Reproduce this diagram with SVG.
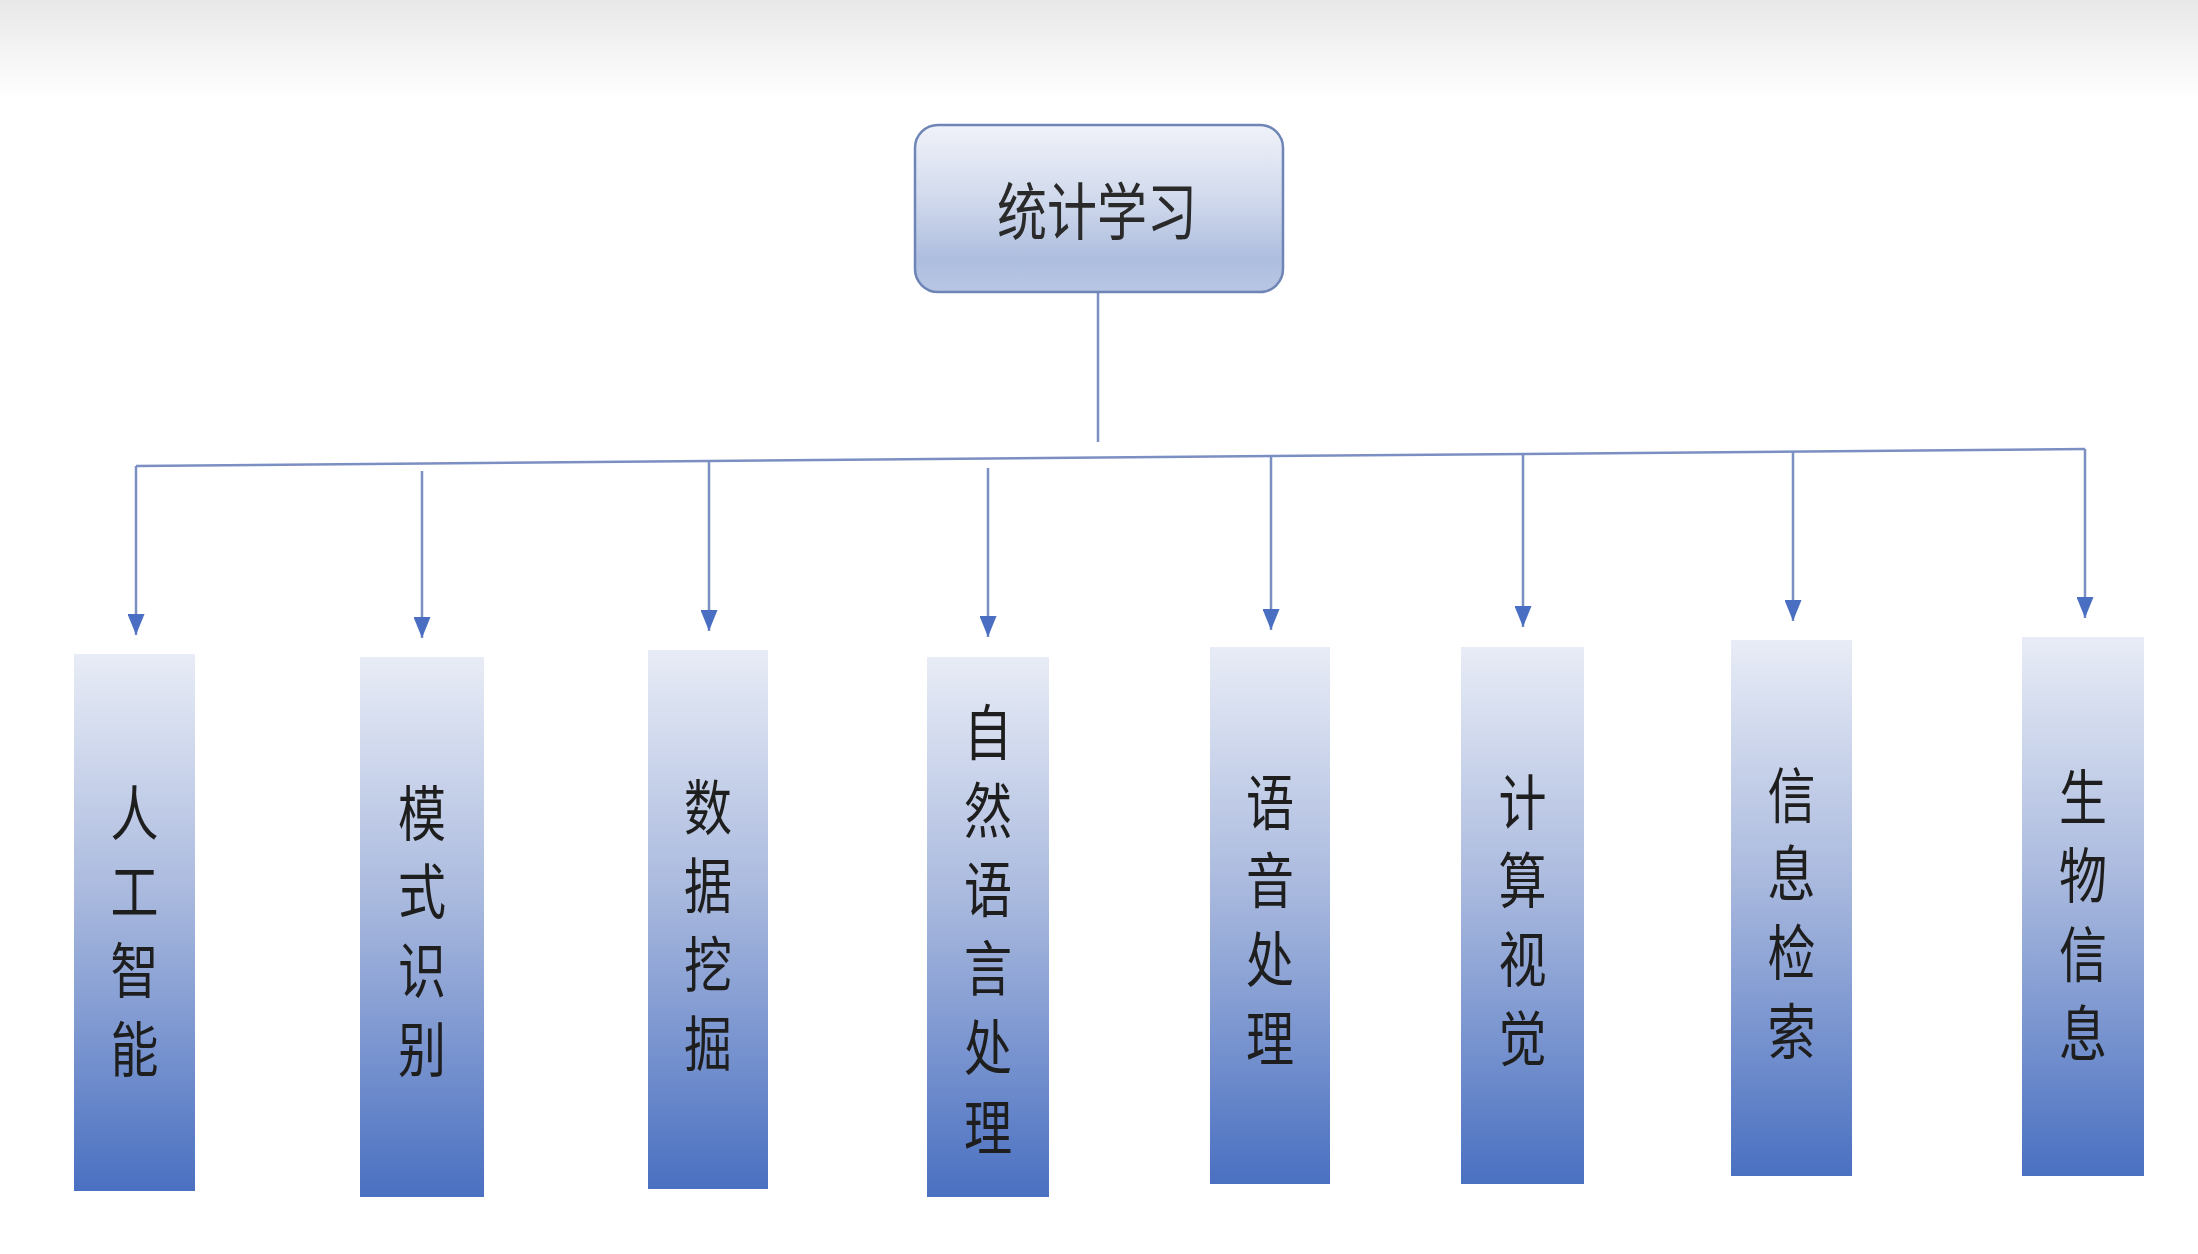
<svg xmlns="http://www.w3.org/2000/svg" width="2198" height="1254" viewBox="0 0 2198 1254">
<defs>
<linearGradient id="topband" x1="0" y1="0" x2="0" y2="1">
<stop offset="0" stop-color="#e8e8e8"/>
<stop offset="0.6" stop-color="#f6f6f6"/>
<stop offset="1" stop-color="#ffffff"/>
</linearGradient>
<linearGradient id="rootfill" x1="0" y1="0" x2="0" y2="1">
<stop offset="0" stop-color="#f0f2f9"/>
<stop offset="0.45" stop-color="#d0d9ec"/>
<stop offset="0.8" stop-color="#aebedf"/>
<stop offset="1" stop-color="#b8c6e3"/>
</linearGradient>
<linearGradient id="boxfill" x1="0" y1="0" x2="0" y2="1">
<stop offset="0" stop-color="#e8ecf6"/>
<stop offset="0.45" stop-color="#a9b9de"/>
<stop offset="1" stop-color="#4a70c1"/>
</linearGradient>
<marker id="arr" viewBox="0 0 21 17" refX="21" refY="8.5" markerWidth="21" markerHeight="17" markerUnits="userSpaceOnUse" orient="auto">
<path d="M0,0 L21,8.5 L0,17 Z" fill="#4a6fc2"/>
</marker>
</defs>
<style>
.conn { fill: none; stroke: #7b8fc3; stroke-width: 2.5; }
.box { fill: url(#boxfill); }
.lbl { font-family: "Noto Sans CJK SC", "Noto Sans CJK JP", sans-serif; font-size: 48px; fill: #1e1e1e; text-anchor: middle; dominant-baseline: central; }
.root-lbl { font-family: "Noto Sans CJK SC", "Noto Sans CJK JP", sans-serif; font-size: 50px; fill: #2a2a2a; text-anchor: middle; dominant-baseline: central; }
</style>
<rect x="0" y="0" width="2198" height="1254" fill="#ffffff"/>
<rect x="0" y="0" width="2198" height="100" fill="url(#topband)"/>

<g id="connectors">
<path class="conn" d="M1098,291 L1098,442"/>
<path class="conn" d="M136,466 L2085,449"/>
<path class="conn" marker-end="url(#arr)" d="M136,466 L136,635"/>
<path class="conn" marker-end="url(#arr)" d="M422,471 L422,638"/>
<path class="conn" marker-end="url(#arr)" d="M709,460 L709,631"/>
<path class="conn" marker-end="url(#arr)" d="M988,468 L988,637"/>
<path class="conn" marker-end="url(#arr)" d="M1271,456 L1271,630"/>
<path class="conn" marker-end="url(#arr)" d="M1523,454 L1523,627"/>
<path class="conn" marker-end="url(#arr)" d="M1793,451 L1793,621"/>
<path class="conn" marker-end="url(#arr)" d="M2085,449 L2085,618"/>
</g>

<g id="root">
<rect x="915" y="125" width="368" height="167" rx="23" ry="23" fill="url(#rootfill)" stroke="#6e85b6" stroke-width="2.5"/>
<text class="root-lbl" transform="translate(1097,207) scale(1,1.25)" x="0" y="0">统计学习</text>
</g>

<g id="n1">
<rect class="box" x="74" y="654" width="121" height="537"/>
<text class="lbl" transform="translate(134.5,809) scale(1,1.25)"><tspan x="0" y="0">人</tspan><tspan x="0" dy="63.2">工</tspan><tspan x="0" dy="63.2">智</tspan><tspan x="0" dy="63.2">能</tspan></text>
</g>

<g id="n2">
<rect class="box" x="360" y="657" width="124" height="540"/>
<text class="lbl" transform="translate(422,809) scale(1,1.25)"><tspan x="0" y="0">模</tspan><tspan x="0" dy="63.2">式</tspan><tspan x="0" dy="63.2">识</tspan><tspan x="0" dy="63.2">别</tspan></text>
</g>

<g id="n3">
<rect class="box" x="648" y="650" width="120" height="539"/>
<text class="lbl" transform="translate(708,803) scale(1,1.25)"><tspan x="0" y="0">数</tspan><tspan x="0" dy="63.2">据</tspan><tspan x="0" dy="63.2">挖</tspan><tspan x="0" dy="63.2">掘</tspan></text>
</g>

<g id="n4">
<rect class="box" x="927" y="657" width="122" height="540"/>
<text class="lbl" transform="translate(988,728) scale(1,1.25)"><tspan x="0" y="0">自</tspan><tspan x="0" dy="63.2">然</tspan><tspan x="0" dy="63.2">语</tspan><tspan x="0" dy="63.2">言</tspan><tspan x="0" dy="63.2">处</tspan><tspan x="0" dy="63.2">理</tspan></text>
</g>

<g id="n5">
<rect class="box" x="1210" y="647" width="120" height="537"/>
<text class="lbl" transform="translate(1270,798) scale(1,1.25)"><tspan x="0" y="0">语</tspan><tspan x="0" dy="63.2">音</tspan><tspan x="0" dy="63.2">处</tspan><tspan x="0" dy="63.2">理</tspan></text>
</g>

<g id="n6">
<rect class="box" x="1461" y="647" width="123" height="537"/>
<text class="lbl" transform="translate(1522.5,798) scale(1,1.25)"><tspan x="0" y="0">计</tspan><tspan x="0" dy="63.2">算</tspan><tspan x="0" dy="63.2">视</tspan><tspan x="0" dy="63.2">觉</tspan></text>
</g>

<g id="n7">
<rect class="box" x="1731" y="640" width="121" height="536"/>
<text class="lbl" transform="translate(1791.5,791) scale(1,1.25)"><tspan x="0" y="0">信</tspan><tspan x="0" dy="63.2">息</tspan><tspan x="0" dy="63.2">检</tspan><tspan x="0" dy="63.2">索</tspan></text>
</g>

<g id="n8">
<rect class="box" x="2022" y="637" width="122" height="539"/>
<text class="lbl" transform="translate(2083,793) scale(1,1.25)"><tspan x="0" y="0">生</tspan><tspan x="0" dy="63.2">物</tspan><tspan x="0" dy="63.2">信</tspan><tspan x="0" dy="63.2">息</tspan></text>
</g>
</svg>
